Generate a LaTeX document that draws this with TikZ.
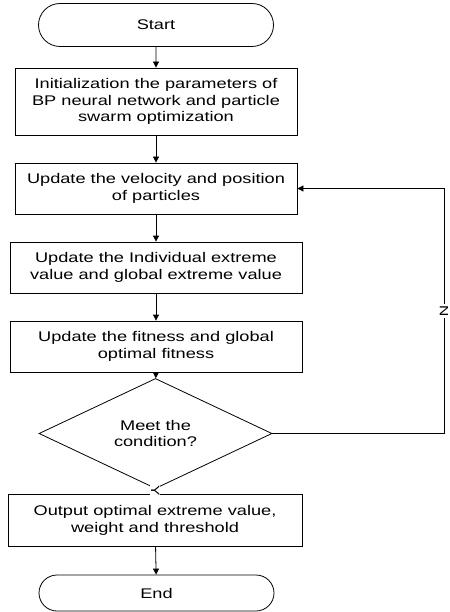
\documentclass[tikz,border=0pt]{standalone}
\usepackage{fontspec}
\setmainfont{Liberation Sans}[FakeStretch=1.3]
\usepackage{tikz}
\usetikzlibrary{arrows.meta}
\usetikzlibrary{shapes.geometric}
\usetikzlibrary{shapes.misc}
\tikzstyle{block}=[draw, thick, align=center, inner sep=0, font=\fontsize{14}{16.8}\selectfont]
\tikzstyle{terminal}=[block, rounded rectangle, minimum width=235pt]
\tikzstyle{process}=[block, rectangle, minimum width=#1pt, minimum height=51pt]
\tikzstyle{decision}=[block, diamond, minimum width=233pt, minimum height=67pt]
\tikzstyle{flow}=[thick, -{Triangle[length=6pt, width=6pt]}]
\tikzstyle{answer}=[fill=white, inner sep=1pt, rotate=-90, font=\fontsize{12}{12}\selectfont]

\begin{document}
\begin{tikzpicture}[x=1pt, y=-1pt]
        \useasboundingbox (0, 0) rectangle (449, 612);
        \node[terminal, minimum height=43pt] (S) at (156, 25) {Start};
        \node[process=282, minimum height=67pt] (P1) at (156, 101.5) {Initialization the parameters of\\BP neural network and particle\\swarm optimization};
        \node[process=282] (P2) at (156, 188.5) {Update the velocity and position\\of particles};
        \node[process=292] (P3) at (156, 267.5) {Update the Individual extreme\\value and global extreme value};
        \node[process=292] (P4) at (156, 346.5) {Update the fitness and global\\optimal fitness};
        \node[decision] (D) at (155.5, 433.5) {Meet the\\condition?};
        \node[process=294, minimum height=52pt] (P5) at (155, 520) {Output optimal extreme value,\\weight and threshold};
        \node[terminal, minimum height=36pt] (E) at (156.5, 593) {End};
        \coordinate (back) at (444, 433.5);
        \draw[flow] (S) -- (P1);
        \draw[flow] (P1) -- (P2);
        \draw[flow] (P2) -- (P3);
        \draw[flow] (P3) -- (P4);
        \draw[flow] (P4) -- (D);
        \draw[flow] (D) -- node[answer] {Y} (P5);
        \draw[flow] (P5) -- (E);
        \draw[flow] (D.east) -- (back) |- node[answer, pos=0.25] {N} (P2.east);
    \end{tikzpicture}
\end{document}
